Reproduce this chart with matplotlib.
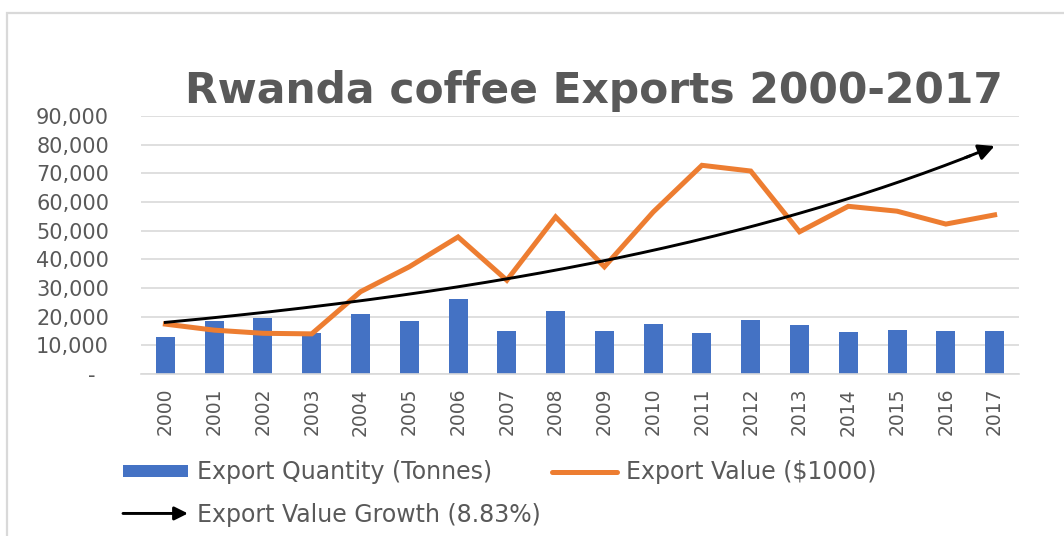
import numpy as np
import matplotlib
matplotlib.use("Agg")
import matplotlib.pyplot as plt
from matplotlib.patches import FancyArrowPatch, Rectangle, Patch
from matplotlib.lines import Line2D
from matplotlib.legend_handler import HandlerBase

# ---- data ----
years = ["2000", "2001", "2002", "2003", "2004", "2005", "2006", "2007", "2008",
         "2009", "2010", "2011", "2012", "2013", "2014", "2015", "2016", "2017"]
export_quantity = [13000, 18500, 19600, 14200, 21100, 18500, 26100, 15100, 22000,
                   15100, 17500, 14200, 18700, 17000, 14600, 15400, 15100, 15100]
export_value = [17400, 15300, 14200, 14000, 28700, 37400, 47800, 32700, 54800,
                37400, 56500, 72800, 70800, 49600, 58500, 56800, 52300, 55500]
y_ticks = [0, 10000, 20000, 30000, 40000, 50000, 60000, 70000, 80000, 90000]

title = "Rwanda coffee Exports 2000-2017"
label_qty = "Export Quantity (Tonnes)"
label_val = "Export Value ($1000)"
label_growth = "Export Value Growth (8.83%)"

BLUE = "#4472C4"
ORANGE = "#ED7D31"
GRAY_TXT = "#595959"
GRID = "#D9D9D9"

plt.rcParams["font.family"] = ["DejaVu Sans"]

W, H = 1064, 536
fig = plt.figure(figsize=(W / 100, H / 100), dpi=100)

# outer chart border
fig.patches.append(Rectangle((7 / W, -0.2), 1.5, 1.2 - 13 / H, transform=fig.transFigure,
                             fill=False, edgecolor=GRID, lw=1.6))

ax = fig.add_axes([141 / W, 1 - 374 / H, (1019 - 141) / W, (374 - 116) / H])
x = np.arange(len(years))

ax.bar(x, export_quantity, width=0.39, color=BLUE, zorder=2)
ax.plot(x, export_value, color=ORANGE, lw=3.6, zorder=3, solid_joinstyle="miter")

# exponential trendline fitted to the export value (as Excel does)
b, loga = np.polyfit(x, np.log(export_value), 1)
t = np.linspace(0, len(years) - 1, 200)
trend = np.exp(loga + b * t)
ax.plot(t[t <= 16.55], trend[t <= 16.55], color="black", lw=2.1, zorder=4)
t0, t1 = 16.4, 17.0
ax.annotate("", xy=(t1, np.exp(loga + b * t1)), xytext=(t0, np.exp(loga + b * t0)),
            arrowprops=dict(arrowstyle="-|>", color="black", lw=2.1, mutation_scale=24,
                            shrinkA=0, shrinkB=0), zorder=5)

ax.set_xlim(-0.5, len(years) - 0.5)
ax.set_ylim(0, 90000)
ax.set_yticks(y_ticks)
ax.set_yticklabels(["-  " if v == 0 else f"{v:,}" for v in y_ticks])
ax.set_xticks(x)
ax.set_xticklabels(years, rotation=90)
ax.tick_params(axis="y", length=0, pad=23, labelsize=15, labelcolor=GRAY_TXT)
ax.tick_params(axis="x", length=0, pad=10, labelsize=13.5, labelcolor=GRAY_TXT)
ax.grid(axis="y", color=GRID, lw=1.2, zorder=0)
ax.set_axisbelow(True)
for s in ["left", "right", "top"]:
    ax.spines[s].set_visible(False)
ax.spines["bottom"].set_color(GRID)
ax.spines["bottom"].set_linewidth(1.2)

fig.text(593.5 / W, 1 - 103 / H, title, ha="center", va="baseline",
         fontsize=30.5, fontweight="bold", color=GRAY_TXT)


class HandlerArrow(HandlerBase):
    def create_artists(self, legend, orig_handle, xdescent, ydescent, width, height,
                       fontsize, trans):
        y = height / 2 - ydescent
        a = FancyArrowPatch((-xdescent, y), (-xdescent + width, y), arrowstyle="-|>",
                            mutation_scale=20, lw=2.1, color="black", transform=trans,
                            shrinkA=0, shrinkB=0)
        return [a]


h_qty = Patch(facecolor=BLUE, edgecolor="none")
h_val = Line2D([], [], color=ORANGE, lw=3.6, solid_capstyle="round")
h_growth = FancyArrowPatch((0, 0), (1, 0))

leg = fig.legend([h_qty, h_growth, h_val], [label_qty, label_growth, label_val],
                 handler_map={FancyArrowPatch: HandlerArrow()},
                 loc="upper left", bbox_to_anchor=(123 / W, 1 - 460 / H), ncol=2,
                 frameon=False, fontsize=17, handlelength=2.75, handletextpad=0.4,
                 columnspacing=0.45, labelspacing=0.8, borderpad=0, borderaxespad=0,
                 handleheight=0.4)
for txt in leg.get_texts():
    txt.set_color(GRAY_TXT)

fig.savefig("out.png", dpi=100)
